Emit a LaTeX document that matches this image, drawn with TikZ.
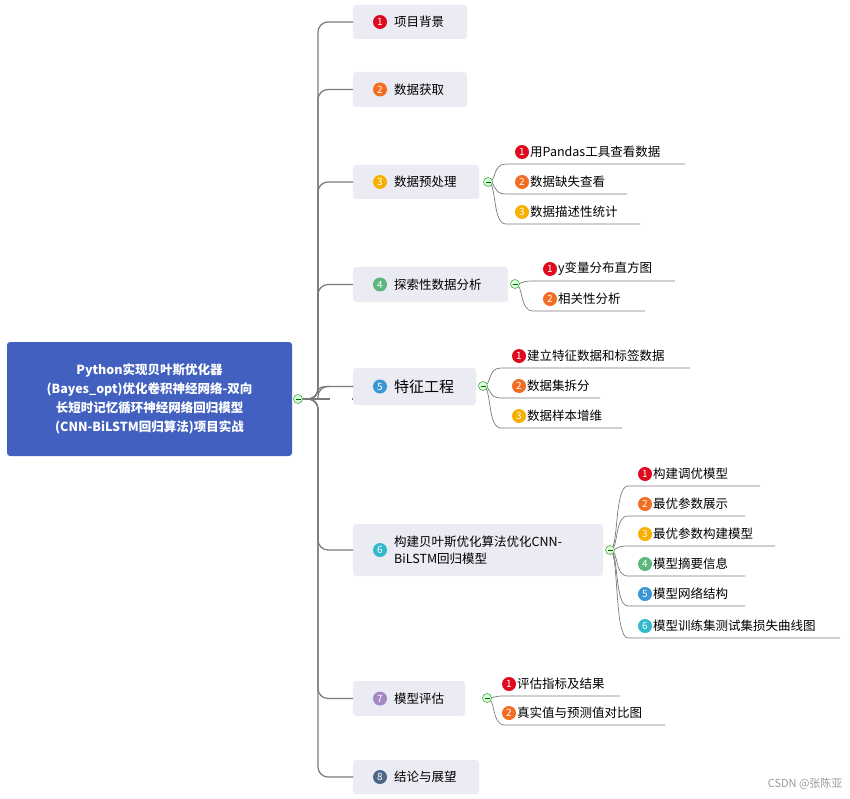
\documentclass[tikz,border=0pt]{standalone}
\usepackage{fontspec}
\setmainfont{Noto Sans CJK SC}
\begin{document}
\definecolor{c1}{HTML}{DE0A1E}\definecolor{c2}{HTML}{F26C22}\definecolor{c3}{HTML}{F8B000}
\definecolor{c4}{HTML}{5BB77E}\definecolor{c5}{HTML}{3A97D4}\definecolor{c6}{HTML}{33B8CC}
\definecolor{c7}{HTML}{A488C6}\definecolor{c8}{HTML}{4F6786}
\definecolor{rootc}{HTML}{4160BF}\definecolor{boxc}{HTML}{EBEBF3}\definecolor{ln}{HTML}{7A7A7A}
\begin{tikzpicture}[x=1pt,y=-1pt,
  root/.style={fill=rootc,rounded corners=3pt,text=white,font=\bfseries\fontsize{12.5}{19}\selectfont,align=center,inner sep=0},
  box/.style={fill=boxc,rounded corners=3pt,inner sep=0},
  badge/.style={circle,fill=#1,text=white,inner sep=0,minimum size=14pt,font=\fontsize{10}{10}\selectfont},
  txt/.style={anchor=west,font=\fontsize{12.5}{15}\selectfont,inner sep=0},
  tog/.style={circle,draw=green!50!black!70,fill=green!15,line width=0.6pt,minimum size=9pt,inner sep=0},
  trunk/.style={draw=ln,line width=1.2pt,rounded corners=10pt},
  child/.style={draw=ln,line width=0.7pt}]
\useasboundingbox (0,0) rectangle (850,799);
% root
\fill[rootc,rounded corners=3pt] (7,342) rectangle (292,456);
\node[root,text width=280pt] (root) at (149.5,399) {Python实现贝叶斯优化器\\(Bayes\_opt)优化卷积神经网络-双向\\长短时记忆循环神经网络回归模型\\(CNN-BiLSTM回归算法)项目实战};
\coordinate (J) at (300,399);
% branch boxes
\def\branch#1#2#3#4#5#6{% name, x2, y1, y2, color, text
  \fill[boxc,rounded corners=3pt] (353,#3) rectangle (#2,#4);
  \coordinate (#1) at (353,{(#3+#4)/2});
  \node[badge=#5] (#1b) at (380,{(#3+#4)/2}) {\bfseries\the\numexpr#6\relax};
}
\foreach \n/\xr/\ya/\yb/\t in {1/467/5/39/项目背景,2/467/72/107/数据获取,3/479/165/199/数据预处理,4/508/267/302/探索性数据分析,7/465/681/716/模型评估,8/479/760/794/结论与展望}{
  \fill[boxc,rounded corners=3pt] (353,\ya) rectangle (\xr,\yb);
  \coordinate (B\n) at (353,{(\ya+\yb)/2});
  \node[badge=c\n] (Bb\n) at (380,{(\ya+\yb)/2}) {\n};
  \node[txt] (Bt\n) at (394,{(\ya+\yb)/2}) {\t};
  \draw[trunk] (J) -- (318,399) |- (B\n);
}
\fill[boxc,rounded corners=3pt] (353,368) rectangle (476,405);
\coordinate (B5) at (353,386.5);
\node[badge=c5] (Bb5) at (380,386.5) {5};
\node[txt,font=\fontsize{15}{18}\selectfont] (Bt5) at (394,386.5) {特征工程};
\draw[trunk] (J) -- (353,399) ;
\draw[trunk] (318,399) |- (B5);
\fill[boxc,rounded corners=3pt] (353,524) rectangle (603,576);
\coordinate (B6) at (353,550);
\node[badge=c6] (Bb6) at (380,550) {6};
\node[txt,align=left,font=\fontsize{12.5}{17}\selectfont] (Bt6) at (394,550) {构建贝叶斯优化算法优化CNN-\\BiLSTM回归模型};
\draw[trunk] (J) -- (318,399) |- (B6);
\fill[white] (330,380) rectangle (352,420);
\draw[draw=ln,line width=1.2pt] (318,392) .. controls (318,387) and (322,386.5) .. (330,386.5) -- (B5);
\draw[draw=ln,line width=2.5pt] (J) -- (312,399);
% children
\foreach \cx/\cy/\bx/\list in {
 488/182/522/{152/c1/1/用Pandas工具查看数据/685,182/c2/2/数据缺失查看/627,212/c3/3/数据描述性统计/640},
 515/284/550/{269/c1/1/y变量分布直方图/675,299/c2/2/相关性分析/645},
 483/386/519/{356/c1/1/建立特征数据和标签数据/690,386/c2/2/数据集拆分/600,416/c3/3/数据样本增维/622},
 610/550/645/{474/c1/1/构建调优模型/760,504/c2/2/最优参数展示/745,534/c3/3/最优参数构建模型/775,564/c4/4/模型摘要信息/745,594/c5/5/模型网络结构/745,626/c6/6/模型训练集测试集损失曲线图/840},
 487/698/509/{684/c1/1/评估指标及结果/620,713/c2/2/真实值与预测值对比图/665}}{
  \foreach \y/\c/\k/\t/\e in \list {
    \node[badge=\c] at (\bx,\y) {\k};
    \node[txt] at ({\bx+8},\y) {\t};
    \draw[child] (\cx,\cy) .. controls ({\cx+9},\cy) and ({\cx+4},{\y+12}) .. ({\cx+18},{\y+12}) -- (\e,{\y+12});
  }
  \node[tog] at (\cx,\cy) {};
  \draw[green!40!black,line width=0.6pt] ({\cx-2.5},\cy) -- ({\cx+2.5},\cy);
}
\node[tog] (rt) at (298,399) {};
\draw[green!40!black,line width=0.6pt] (295.5,399) -- (300.5,399);
\node[anchor=east,text=gray!80,font=\fontsize{11}{13}\selectfont] (wm) at (846,784) {CSDN @张陈亚};
\end{tikzpicture}
\end{document}
